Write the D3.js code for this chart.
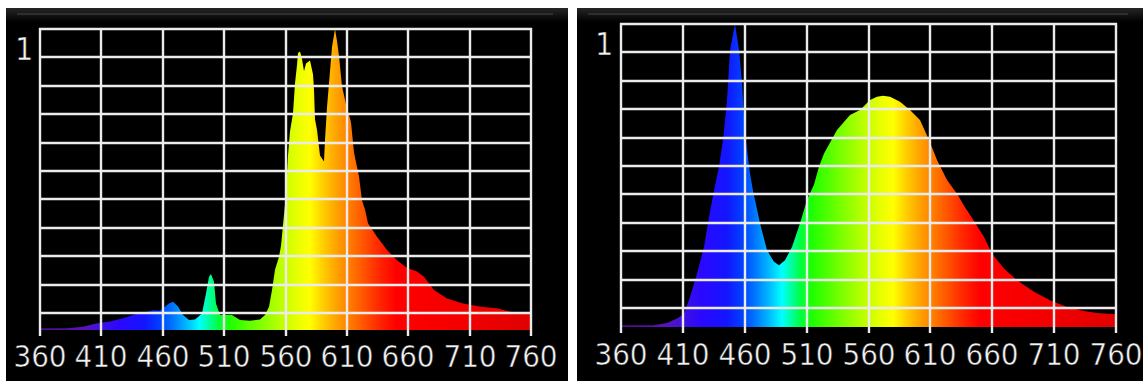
<!DOCTYPE html>
<html>
<head>
<meta charset="utf-8">
<script src="https://cdn.jsdelivr.net/npm/d3@7"></script>
<style>
  html, body { margin: 0; padding: 0; background: #fff; }
  svg { display: block; }
</style>
</head>
<body>
<svg id="chart" width="1143" height="381"></svg>
<script>
// wavelength axis (nm)
const wavelength_ticks = [360, 410, 460, 510, 560, 610, 660, 710, 760];
const grid_levels = [0, 1, 2, 3, 4, 5, 6, 7, 8, 9, 10];
const top_label = "1";

// left spectrum: narrow-band peaks
const spec_a_nm = [360, 382, 395, 406, 417, 428, 436, 447, 452, 458, 464.7, 468.7, 472.8, 476.9, 481, 486.4,
    491.9, 495.4, 497.3, 499.2, 501.4, 503.6, 506.8, 511, 516.4, 523, 531, 539.5, 543.5, 546.2, 549, 551.7,
    554.4, 556, 558, 560.5, 562, 564, 566, 567.5, 569, 570.5, 572, 573.5, 575, 577, 580, 582, 583, 584.3,
    586, 588, 591, 592.5, 594, 596, 598, 600, 602, 603.3, 606, 609, 613, 616, 619.6, 622.4, 625, 627.5,
    634.6, 642.8, 651, 659, 667, 672.7, 680.8, 691.7, 705, 719, 732.5, 743, 760];
const spec_a_val = [0.006, 0.006, 0.011, 0.022, 0.028, 0.039, 0.05, 0.061, 0.066, 0.064, 0.088, 0.094, 0.078, 0.05, 0.033, 0.035,
    0.055, 0.121, 0.177, 0.186, 0.16, 0.088, 0.05, 0.05, 0.05, 0.033, 0.031, 0.035, 0.05, 0.077, 0.133, 0.2,
    0.243, 0.28, 0.35, 0.45, 0.58, 0.66, 0.72, 0.82, 0.88, 0.92, 0.925, 0.9, 0.86, 0.885, 0.895, 0.85, 0.80, 0.70,
    0.665, 0.58, 0.56, 0.63, 0.74, 0.86, 0.94, 1.0, 0.96, 0.91, 0.81, 0.75, 0.69, 0.59, 0.51, 0.43, 0.40, 0.355,
    0.31, 0.266, 0.232, 0.206, 0.194, 0.177, 0.133, 0.105, 0.088, 0.077, 0.072, 0.061, 0.055];

// right spectrum: blue LED + phosphor
const spec_b_nm = [360, 386, 397, 405, 410.6, 416, 421.4, 426.8, 430.8, 434.8, 438.9, 442.4, 445.7, 448.3, 451.8,
    455, 457.8, 460.4, 464.5, 467, 472.6, 478, 483.3, 487.4, 492.8, 498.2, 505, 510.3, 515.6, 520, 523.7,
    534.5, 545, 553.4, 561.5, 566.9, 572, 577.6, 585.7, 593.8, 601.9, 608.6, 615.4, 623.4, 631.5, 638.2,
    644.9, 653, 659.8, 669.2, 680, 693.4, 706.9, 720.4, 733.8, 744.7, 760];
const spec_b_val = [0.006, 0.006, 0.013, 0.028, 0.044, 0.099, 0.176, 0.264, 0.363, 0.45, 0.53, 0.617, 0.749, 0.914, 1.0,
    0.914, 0.805, 0.64, 0.507, 0.45, 0.342, 0.253, 0.215, 0.204, 0.22, 0.264, 0.342, 0.419, 0.47, 0.53, 0.573,
    0.65, 0.70, 0.716, 0.749, 0.76, 0.763, 0.76, 0.743, 0.716, 0.683, 0.617, 0.551, 0.485, 0.44, 0.395,
    0.35, 0.297, 0.242, 0.193, 0.154, 0.116, 0.088, 0.066, 0.053, 0.046, 0.042];

// fill colour by wavelength
const rainbow_nm = [360, 395, 410, 425, 445, 458, 470, 482, 490, 497, 505, 515, 535, 555, 570, 580, 590, 600, 610, 622, 636, 650, 700, 760];
const rainbow_colors = ["#4a0c8a", "#5a14b4", "#4010e0", "#2a08ff", "#1414ff", "#0040ff", "#0080ff", "#00c8ff", "#00ffff",
    "#00ffa8", "#00ff40", "#20ff00", "#70ff00", "#b8ff00", "#e8ff00", "#ffff00", "#ffd000", "#ffa800", "#ff8400",
    "#ff5a00", "#ff2800", "#ff0000", "#f40000", "#e00000"];

const panels = [
    { x0: 6, x1: 568, left: 40, right: 531, top: 29, grid_bottom: 313, base: 330, tick_end: 336,
      label_y: 367, one_x: 15, one_y: 60, nm: spec_a_nm, val: spec_a_val },
    { x0: 577, x1: 1143, left: 621, right: 1116, top: 24, grid_bottom: 308, base: 327, tick_end: 333,
      label_y: 365, one_x: 595, one_y: 55, nm: spec_b_nm, val: spec_b_val }
];

const font = "'Liberation Sans Narrow', 'DejaVu Sans Condensed', sans-serif";
const grid_color = "#ebebeb";
const text_color = "#f2f2f2";
const svg = d3.select("#chart");
const defs = svg.append("defs");

const strip = defs.append("linearGradient").attr("id", "strip")
    .attr("x1", 0).attr("x2", 0).attr("y1", 0).attr("y2", 1);
strip.append("stop").attr("offset", 0).attr("stop-color", "#262626");
strip.append("stop").attr("offset", 1).attr("stop-color", "#000");

function build_panel(p, idx) {
    const g = svg.append("g");
    g.append("rect").attr("x", p.x0).attr("y", 8).attr("width", p.x1 - p.x0).attr("height", 381 - 8).attr("fill", "#000");
    g.append("rect").attr("x", p.x0).attr("y", 8).attr("width", p.x1 - p.x0).attr("height", 14).attr("fill", "url(#strip)");
    g.append("rect").attr("x", p.x0 + 11).attr("y", 13).attr("width", p.x1 - p.x0 - 26).attr("height", 2).attr("fill", "#2e2e2e");

    const x = d3.scaleLinear().domain([360, 760]).rangeRound([p.left, p.right]);
    const y = d3.scaleLinear().domain([0, 1]).range([p.base, p.top]);
    const y_grid = d3.scaleLinear().domain([0, 10]).rangeRound([p.grid_bottom, p.top]);

    const grad = defs.append("linearGradient").attr("id", "rainbow" + idx)
        .attr("gradientUnits", "userSpaceOnUse")
        .attr("x1", x(360)).attr("x2", x(760)).attr("y1", 0).attr("y2", 0);
    rainbow_nm.forEach((nm, i) => {
        grad.append("stop").attr("offset", (nm - 360) / 400).attr("stop-color", rainbow_colors[i]);
    });

    const data = p.nm.map((nm, i) => ({ nm, v: p.val[i] }));
    const area = d3.area()
        .x(d => x(d.nm))
        .y0(y(0))
        .y1(d => y(d.v));
    g.append("path").datum(data).attr("d", area).attr("fill", `url(#rainbow${idx})`);

    // horizontal grid
    g.append("g").selectAll("line")
        .data(grid_levels)
        .join("line")
        .attr("x1", p.left - 1).attr("x2", p.right + 1)
        .attr("y1", d => y_grid(d)).attr("y2", d => y_grid(d))
        .attr("stroke", grid_color).attr("stroke-width", 2.4);

    // vertical grid + wavelength labels
    const ax = g.append("g")
        .attr("transform", `translate(0,${p.tick_end})`)
        .call(d3.axisBottom(x).tickValues(wavelength_ticks).tickSize(-(p.tick_end - p.top + 1)).tickSizeOuter(0).offset(0));
    ax.select(".domain").remove();
    ax.selectAll(".tick line").attr("stroke", grid_color).attr("stroke-width", 2.4);
    ax.selectAll(".tick text")
        .attr("y", p.label_y - p.tick_end).attr("dy", null)
        .attr("fill", text_color)
        .attr("stroke", "#000").attr("stroke-width", 0.5)
        .style("font-family", font).style("font-size", "31px");

    g.append("text").attr("x", p.one_x).attr("y", p.one_y)
        .attr("fill", text_color)
        .attr("stroke", "#000").attr("stroke-width", 0.5)
        .style("font-family", font).style("font-size", "32px")
        .text(top_label);
}

panels.forEach((p, i) => build_panel(p, i));
</script>
</body>
</html>
